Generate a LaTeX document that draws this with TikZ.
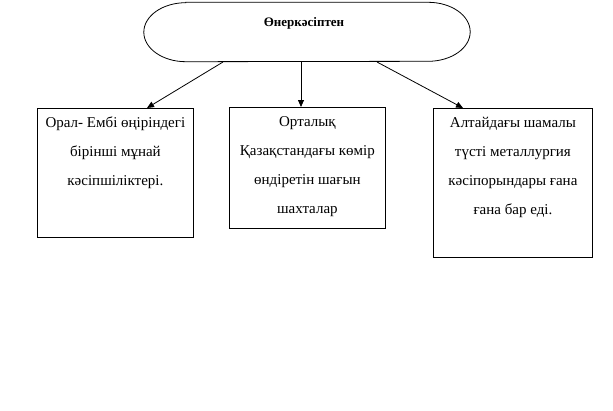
\documentclass[tikz,border=0pt]{standalone}
\usepackage{fontspec}
\setmainfont{Liberation Serif}
\usetikzlibrary{arrows.meta}
\begin{document}
\begin{tikzpicture}[x=1pt,y=-1pt,
  framebox/.style={draw,line width=0.8pt,anchor=north west,inner sep=0pt},
  boxtext/.style={anchor=north,align=center,inner sep=0pt,font=\fontsize{15}{29}\selectfont},
  link/.style={line width=0.8pt,-{Triangle[length=7pt,width=6pt]}}]
\useasboundingbox (0,0) rectangle (613,410);

%TITLE
  \node[minimum width=326pt,minimum height=59pt,inner sep=0pt] (title) at (307,32) {};
  \draw[line width=0.8pt] ([xshift=42pt]title.north west) -- ([xshift=-42pt]title.north east)
    arc[start angle=90,end angle=-90,x radius=42pt,y radius=29.5pt]
    -- ([xshift=42pt]title.south west)
    arc[start angle=270,end angle=90,x radius=42pt,y radius=29.5pt] -- cycle;
  \node[font=\fontsize{13}{15}\bfseries\selectfont] (name) at (304,23) {Өнеркәсіптен};

%BOXES
  \node[framebox,minimum width=156pt,minimum height=129pt] (oil) at (37,108) {};
  \node[boxtext] (oiltext) at ([yshift=-9pt]oil.north) {Орал- Ембі өңіріндегі\\бірінші мұнай\\кәсіпшіліктері.};

  \node[framebox,minimum width=156pt,minimum height=121pt] (coal) at (229,107) {};
  \node[boxtext] (coaltext) at ([yshift=-9pt]coal.north) {Орталық\\Қазақстандағы көмір\\өндіретін шағын\\шахталар};

  \node[framebox,minimum width=159pt,minimum height=149pt] (metal) at (433,108) {};
  \node[boxtext] (metaltext) at ([yshift=-9pt]metal.north) {Алтайдағы шамалы\\түсті металлургия\\кәсіпорындары ғана\\ғана бар еді.};

%ARROWS
  \coordinate (s1) at (223,62); \coordinate (e1) at (147,108);
  \coordinate (s2) at (301,62); \coordinate (e2) at (301,107);
  \coordinate (s3) at (377,62); \coordinate (e3) at (463,108);
  \draw[link] (s1) -- (e1);
  \draw[link] (s2) -- (e2);
  \draw[link] (s3) -- (e3);
\end{tikzpicture}
\end{document}
